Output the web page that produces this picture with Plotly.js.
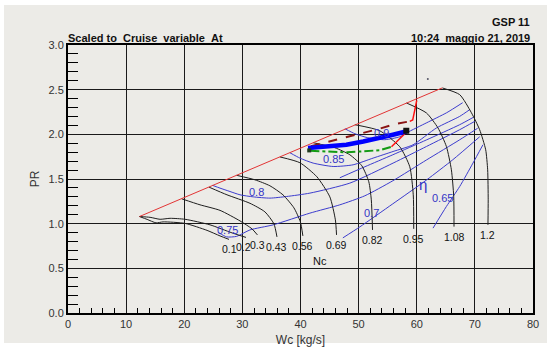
<!DOCTYPE html>
<html>
<head>
<meta charset="utf-8">
<script src="https://cdn.plot.ly/plotly-3.0.1.min.js"></script>
<style>
  html, body { margin: 0; padding: 0; background: #ffffff; }
  #chart { width: 552px; height: 347px; }
</style>
</head>
<body>
<div id="chart"></div>
<script>
// ---- Compressor map: surge line ----
const surgeWc = [12.3, 64.4];
const surgePr = [1.08, 2.52];

// ---- Corrected speed lines (Nc) ----
const speedLabels = ['0.1', '0.2', '0.3', '0.43', '0.56', '0.69', '0.82', '0.95', '1.08', '1.2'];
const nc010Wc = [12.29, 13.61, 15.15, 16.36, 20.14, 23.92, 26.15, 27.70];
const nc010Pr = [1.080, 1.048, 1.009, 1.020, 1.003, 0.925, 0.863, 0.824];
const nc020Wc = [12.29, 14.12, 15.84, 17.56, 20.14, 24.43, 28.21, 30.62];
const nc020Pr = [1.080, 1.071, 1.049, 1.060, 1.049, 0.987, 0.897, 0.846];
const nc030Wc = [19.57, 22.71, 26.15, 29.59, 31.65, 32.59];
const nc030Pr = [1.278, 1.211, 1.149, 1.031, 0.942, 0.874];
const nc043Wc = [24.26, 27.35, 31.31, 33.88, 35.43, 35.95];
const nc043Pr = [1.409, 1.323, 1.228, 1.132, 0.998, 0.852];
const nc056Wc = [29.02, 32.16, 34.74, 36.98, 38.87, 39.98, 40.41];
const nc056Pr = [1.541, 1.491, 1.424, 1.323, 1.177, 1.020, 0.863];
const nc069Wc = [36.46, 39.90, 42.82, 45.05, 46.00, 46.20];
const nc069Pr = [1.747, 1.682, 1.525, 1.300, 1.043, 0.874];
const nc082Wc = [42.18, 45.91, 48.49, 50.55, 51.75, 52.18, 52.39];
const nc082Pr = [1.906, 1.850, 1.771, 1.648, 1.469, 1.267, 0.930];
const nc095Wc = [49.35, 53.64, 57.08, 58.80, 59.40, 59.48];
const nc095Pr = [2.108, 2.040, 1.861, 1.637, 1.323, 0.942];
const nc108Wc = [58.23, 61.67, 63.66, 65.10, 65.96, 66.36, 66.41];
const nc108Pr = [2.351, 2.239, 2.071, 1.864, 1.603, 1.304, 0.967];
const nc120Wc = [64.42, 67.39, 69.40, 70.82, 71.86, 72.20, 72.29, 72.25];
const nc120Pr = [2.519, 2.444, 2.242, 2.052, 1.827, 1.603, 1.267, 0.987];

// ---- Efficiency contours (eta) ----
const eff065Wc = [62.80, 65.10, 67.39, 69.67, 71.39];
const eff065Pr = [0.950, 1.192, 1.416, 1.678, 1.883];
const eff070Wc = [47.29, 50.21, 55.88, 61.72, 66.19, 70.83];
const eff070Pr = [0.841, 0.964, 1.222, 1.491, 1.715, 1.973];
const eff075Wc = [25.86, 27.30, 29.02, 31.31, 35.31, 41.62, 46.77, 51.07, 55.88, 61.72, 67.39, 70.48];
const eff075Pr = [0.902, 0.852, 0.858, 0.930, 0.987, 1.118, 1.211, 1.312, 1.480, 1.715, 1.939, 2.068];
const eff080Wc = [24.86, 26.15, 27.87, 29.59, 31.87, 34.74, 37.61, 41.62, 48.49, 55.93, 61.67, 67.39, 69.97];
const eff080Pr = [1.429, 1.398, 1.360, 1.323, 1.300, 1.286, 1.304, 1.342, 1.454, 1.678, 1.864, 2.052, 2.145];
const eff083Wc = [46.77, 51.07, 55.88, 61.72, 67.39, 69.79];
const eff083Pr = [1.514, 1.637, 1.771, 1.939, 2.108, 2.192];
const eff085Wc = [38.18, 39.90, 42.18, 45.62, 49.05, 52.49, 55.93, 59.36, 63.38, 67.39, 69.10];
const eff085Pr = [1.794, 1.734, 1.678, 1.640, 1.659, 1.734, 1.808, 1.883, 2.071, 2.201, 2.276];
const eff090Wc = [47.63, 49.35, 51.58, 54.50, 57.08, 58.28, 61.72, 65.15, 67.90];
const eff090Pr = [2.063, 2.007, 1.962, 1.940, 1.973, 2.018, 2.130, 2.242, 2.354];

// ---- Operating lines ----
const opMainWc = [41.3, 43.9, 47.9, 50.8, 53.6, 55.9, 58.3];
const opMainPr = [1.846, 1.864, 1.883, 1.920, 1.958, 1.996, 2.035];
const opUpperWc = [41.8, 45.1, 49.9, 53.6, 56.5, 58.8];
const opUpperPr = [1.867, 1.920, 1.996, 2.063, 2.119, 2.145];
const opUpperTailWc = [58.8, 59.3, 59.66, 60.0];
const opUpperTailPr = [2.145, 2.160, 2.270, 2.380];
const opLowerWc = [41.7, 48.0, 53.6, 55.65];
const opLowerPr = [1.816, 1.799, 1.822, 1.861];
const opLowerTailWc = [55.65, 58.2];
const opLowerTailPr = [1.861, 2.024];
const designPointWc = [58.2];
const designPointPr = [2.04];
const startPointWc = [41.5];
const startPointPr = [1.82];
const strayPointWc = [61.9];
const strayPointPr = [2.62];

const FONT = 'Liberation Sans, Arial, sans-serif';
const BLUE = '#3c3cce';
const BLUE_TXT = '#3434c6';

const speedLines = [
  [nc010Wc, nc010Pr], [nc020Wc, nc020Pr], [nc030Wc, nc030Pr], [nc043Wc, nc043Pr],
  [nc056Wc, nc056Pr], [nc069Wc, nc069Pr], [nc082Wc, nc082Pr], [nc095Wc, nc095Pr],
  [nc108Wc, nc108Pr], [nc120Wc, nc120Pr]
];
const effLines = [
  [eff065Wc, eff065Pr], [eff070Wc, eff070Pr], [eff075Wc, eff075Pr], [eff080Wc, eff080Pr],
  [eff083Wc, eff083Pr], [eff085Wc, eff085Pr], [eff090Wc, eff090Pr]
];

const traces = [];

effLines.forEach(([wc, pr]) => {
  traces.push({ x: wc, y: pr, mode: 'lines', type: 'scatter', hoverinfo: 'skip',
    line: { color: BLUE, width: 1, shape: 'spline', smoothing: 0.6 } });
});

speedLines.forEach(([wc, pr]) => {
  traces.push({ x: wc, y: pr, mode: 'lines', type: 'scatter', hoverinfo: 'skip',
    line: { color: '#1e1e1e', width: 1, shape: 'spline', smoothing: 0.6 } });
});

traces.push({ x: surgeWc, y: surgePr, mode: 'lines', type: 'scatter',
  line: { color: '#e23434', width: 1 } });

traces.push({ x: opLowerWc, y: opLowerPr, mode: 'lines', type: 'scatter',
  line: { color: '#139a13', width: 2, dash: 'dashdot' } });
traces.push({ x: opLowerTailWc, y: opLowerTailPr, mode: 'lines', type: 'scatter',
  line: { color: '#ff1010', width: 1.5 } });
traces.push({ x: opUpperWc, y: opUpperPr, mode: 'lines', type: 'scatter',
  line: { color: '#8a1414', width: 2, dash: 'dash' } });
traces.push({ x: opUpperTailWc, y: opUpperTailPr, mode: 'lines', type: 'scatter',
  line: { color: '#ff1010', width: 1.5 } });
traces.push({ x: opMainWc, y: opMainPr, mode: 'lines', type: 'scatter',
  line: { color: '#0000ff', width: 4.5 } });
traces.push({ x: designPointWc, y: designPointPr, mode: 'markers', type: 'scatter',
  marker: { symbol: 'square', size: 6, color: '#111111' } });
traces.push({ x: startPointWc, y: startPointPr, mode: 'markers', type: 'scatter',
  marker: { symbol: 'square', size: 4, color: '#1f3a1f' } });
traces.push({ x: strayPointWc, y: strayPointPr, mode: 'markers', type: 'scatter',
  marker: { size: 2, color: '#555566' } });

// Speed labels sit just below the end of each speed line; the three
// lowest speeds end close together, so their labels are nudged into a row.
const labelNudge = { '0.1': 0, '0.2': -2, '0.3': 0 };
const annotations = speedLines.map(([wc, pr], i) => ({
  x: wc[wc.length - 1], y: pr[pr.length - 1], xref: 'x', yref: 'y',
  text: speedLabels[i], showarrow: false, yanchor: 'middle', yshift: -10,
  xshift: labelNudge[speedLabels[i]] || 0,
  font: { family: FONT, size: 10.5, color: '#111111' }
}));

// Efficiency labels
const effLabelSpots = [
  { text: '0.75', x: 27.5, y: 0.93 },
  { text: '0.8', x: 32.5, y: 1.36 },
  { text: '0.85', x: 45.6, y: 1.726 },
  { text: '0.9', x: 53.9, y: 2.012 },
  { text: '0.7', x: 52.2, y: 1.118 },
  { text: '0.65', x: 64.5, y: 1.286 }
];
effLabelSpots.forEach(s => annotations.push({
  x: s.x, y: s.y, xref: 'x', yref: 'y', text: s.text, showarrow: false,
  font: { family: FONT, size: 11, color: BLUE_TXT }
}));
annotations.push({ x: 61.1, y: 1.435, xref: 'x', yref: 'y', text: 'η', showarrow: false,
  font: { family: FONT, size: 15, color: BLUE_TXT } });
annotations.push({ x: 43.3, y: 0.583, xref: 'x', yref: 'y', text: 'Nc', showarrow: false,
  font: { family: FONT, size: 11, color: '#111111' } });

// Header texts
annotations.push({ xref: 'paper', yref: 'paper', x: -0.004, y: 1.026, xanchor: 'left', yanchor: 'middle',
  text: 'Scaled to\u00a0\u00a0Cruise_variable_At', showarrow: false,
  font: { family: FONT, size: 11, color: '#111111', weight: 'bold' } });
annotations.push({ xref: 'paper', yref: 'paper', x: 0.998, y: 1.026, xanchor: 'right', yanchor: 'middle',
  text: '10:24\u00a0\u00a0maggio 21, 2019', showarrow: false,
  font: { family: FONT, size: 11, color: '#111111', weight: 'bold' } });
annotations.push({ xref: 'paper', yref: 'paper', x: 0.998, y: 1.086, xanchor: 'right', yanchor: 'middle',
  text: 'GSP 11', showarrow: false,
  font: { family: FONT, size: 11, color: '#111111', weight: 'bold' } });

const layout = {
  width: 552, height: 347,
  margin: { l: 68, r: 19, t: 45, b: 34, pad: 0 },
  paper_bgcolor: '#ffffff',
  plot_bgcolor: 'rgba(0,0,0,0)',
  showlegend: false,
  font: { family: FONT, size: 11, color: '#333333' },
  shapes: [{
    type: 'rect', xref: 'paper', yref: 'paper', layer: 'below',
    x0: -0.1376, x1: 1.0301, y0: -0.112, y1: 1.149,
    fillcolor: '#ecebe7', line: { width: 0 }
  }],
  xaxis: {
    range: [0, 80], tick0: 0, dtick: 10, ticks: '', zeroline: false,
    showgrid: true, gridcolor: '#1a1a1a', gridwidth: 1,
    showline: true, mirror: true, linecolor: '#000000', linewidth: 2,
    tickfont: { family: FONT, size: 11, color: '#333333' },
    minor: { dtick: 2, ticks: 'inside', ticklen: 5, tickcolor: '#000000', tickwidth: 1, showgrid: false },
    title: { text: 'Wc [kg/s]', font: { family: FONT, size: 12, color: '#333333' }, standoff: 6 },
    fixedrange: true
  },
  yaxis: {
    range: [0, 3], tick0: 0, dtick: 0.5, tickformat: '.1f', ticks: '', zeroline: false,
    showgrid: true, gridcolor: '#1a1a1a', gridwidth: 1,
    showline: true, mirror: true, linecolor: '#000000', linewidth: 2,
    tickfont: { family: FONT, size: 11, color: '#333333' },
    minor: { dtick: 0.1, ticks: 'inside', ticklen: 10, tickcolor: '#000000', tickwidth: 1, showgrid: false },
    title: { text: 'PR', font: { family: FONT, size: 12, color: '#333333' }, standoff: 6 },
    fixedrange: true
  },
  annotations: annotations
};

Plotly.newPlot('chart', traces, layout, { staticPlot: true, displayModeBar: false });
</script>
</body>
</html>
